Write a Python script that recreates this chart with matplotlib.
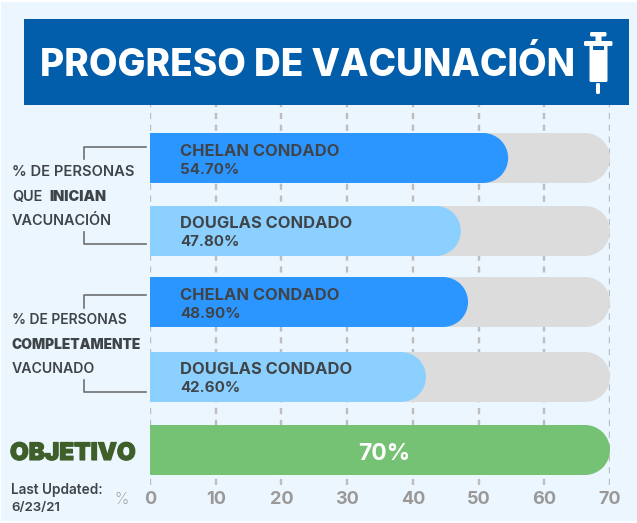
import matplotlib
matplotlib.use('Agg')
import matplotlib.pyplot as plt
import matplotlib.patches as patches
import matplotlib.patheffects as pe

# ----------------------------------------------------------------
# data

counties=['CHELAN CONDADO','DOUGLAS CONDADO','CHELAN CONDADO','DOUGLAS CONDADO']
# bar lengths, the printed labels differ a little
values=[54.5,47.3,48.4,42.0]
value_labels=['54.70%','47.80%','48.90%','42.60%']
goal=70
goal_label='70%'
xticks=[0,10,20,30,40,50,60,70]

# ----------------------------------------------------------------
# colours and layout, y in pixels from the top

bg='#ebf6ff'
dark='#3f4448'
track='#dcdcdc'
bar_colors=['#2b96ff','#8cd0ff','#2b96ff','#8cd0ff']
green='#76c274'
bar_y=[158,231,302,377]
goal_y=450
bar_h=50
W,H=637,523

plt.rcParams['font.family']=['Inter','DejaVu Sans']

def rounded_bar(ax,y,val,color,z):
    # square on the left, half circle on the right
    rx=25*70/460.0
    ax.barh(y,val-rx,height=bar_h,color=color,zorder=z,linewidth=0)
    ax.add_patch(patches.Ellipse((val-rx,y),2*rx,bar_h,color=color,lw=0,zorder=z))

fig=plt.figure(figsize=(W/100.0,H/100.0),dpi=100)
fig.set_facecolor('white')

# ----------------------------------------------------------------
# panel behind everything

bgax=fig.add_axes([0,0,1,1],zorder=1)
bgax.set_xlim(0,W)
bgax.set_ylim(H,0)
bgax.axis('off')
bgax.add_patch(patches.Rectangle((1,2),636,519,color=bg,lw=0))

# ----------------------------------------------------------------
# chart

ax=fig.add_axes([150.0/W,1-485.0/H,460.0/W,380.0/H],zorder=2)
ax.patch.set_alpha(0)
ax.set_xlim(0,70)
ax.set_ylim(485,105)
for s in ax.spines.values():
    s.set_visible(False)
ax.set_yticks([])
ax.set_xticks(xticks)
ax.tick_params(axis='x',length=0,pad=4,labelsize=13,labelcolor='#9b9898')
for t in ax.get_xticklabels():
    t.set_fontweight('bold')
ax.grid(axis='x',color='#bdbdbd',lw=1.7,ls=(0,(2.6,2.4)),zorder=1)
ax.set_axisbelow(True)

for i in range(0,len(values)):
    rounded_bar(ax,bar_y[i],goal,track,2)
    rounded_bar(ax,bar_y[i],values[i],bar_colors[i],3)
rounded_bar(ax,goal_y,goal,green,3)
ax.text(35.6,goal_y+4,goal_label,ha='center',va='center',color='white',
        fontsize=16.5,fontweight='bold',zorder=4)

# ----------------------------------------------------------------
# text and banner, pixel coordinates

fg=fig.add_axes([0,0,1,1],zorder=3)
fg.set_xlim(0,W)
fg.set_ylim(H,0)
fg.axis('off')

for i in range(0,len(counties)):
    fg.text(180,bar_y[i]-7,counties[i],va='center',color=dark,fontsize=11.9,fontweight='bold')
    fg.text(180,bar_y[i]+11.5,value_labels[i],va='center',color=dark,fontsize=10.9,fontweight='bold')

# banner
banner='#025dab'
fg.add_patch(patches.Rectangle((24,19),605,86,color=banner,lw=0))
fg.text(40,65,'PROGRESO DE VACUNACIÓN',va='center',color='white',fontsize=26.7,fontweight='extra bold')

# syringe
def rbox(x0,y0,x1,y1,color='white',r=1.5):
    fg.add_patch(patches.FancyBboxPatch((x0+r,y0+r),x1-x0-2*r,y1-y0-2*r,
        boxstyle='round,pad=%g,rounding_size=%g'%(r,r),color=color,lw=0))
rbox(590,32,606.5,36.5)
rbox(595.5,36,601.5,42,r=0.5)
rbox(584,41,612.5,46)
rbox(589.5,45,607.5,82)
rbox(593,46,604,50,color=banner,r=0.5)
rbox(596,83,600,94,r=1.5)

# side labels and brackets
side=dict(color=dark,va='center',fontweight='semibold')
fg.text(12,172,'% DE PERSONAS',fontsize=10.6,**side)
fg.text(12,197,'QUE',fontsize=10.4,**side)
fg.text(49,197,'INICIAN',color=dark,fontsize=10.4,va='center',fontweight='black')
fg.text(12,221,'VACUNACIÓN',fontsize=10.4,**side)
fg.text(12,320,'% DE PERSONAS',fontsize=10.0,**side)
fg.text(12,345,'COMPLETAMENTE',color=dark,fontsize=9.9,va='center',fontweight='black')
fg.text(12,369,'VACUNADO',fontsize=10.2,**side)
lc='#6d7072'
fg.plot([83.5,83.5,146],[159,146.5,146.5],color=lc,lw=1.2)
fg.plot([83.5,83.5,146],[232,243.5,243.5],color=lc,lw=1.2)
fg.plot([83.5,83.5,146],[308,295,295],color=lc,lw=1.2)
fg.plot([83.5,83.5,146],[380,392,392],color=lc,lw=1.2)

fg.text(10,454,'OBJETIVO',va='center',color='#3f5f2a',fontsize=17.4,fontweight='black',
        path_effects=[pe.withStroke(linewidth=0.8,foreground='#3f5f2a')])
fg.text(11,490,'Last Updated:',va='center',color=dark,fontsize=9.8,fontweight='semibold')
fg.text(11,508,'6/23/21',va='center',color=dark,fontsize=9.6,fontweight='semibold')
fg.text(122,499,'%',ha='center',va='center',color='#9b9898',fontsize=11.5,fontweight='light')

plt.savefig('out.png',dpi=100,facecolor='white')
